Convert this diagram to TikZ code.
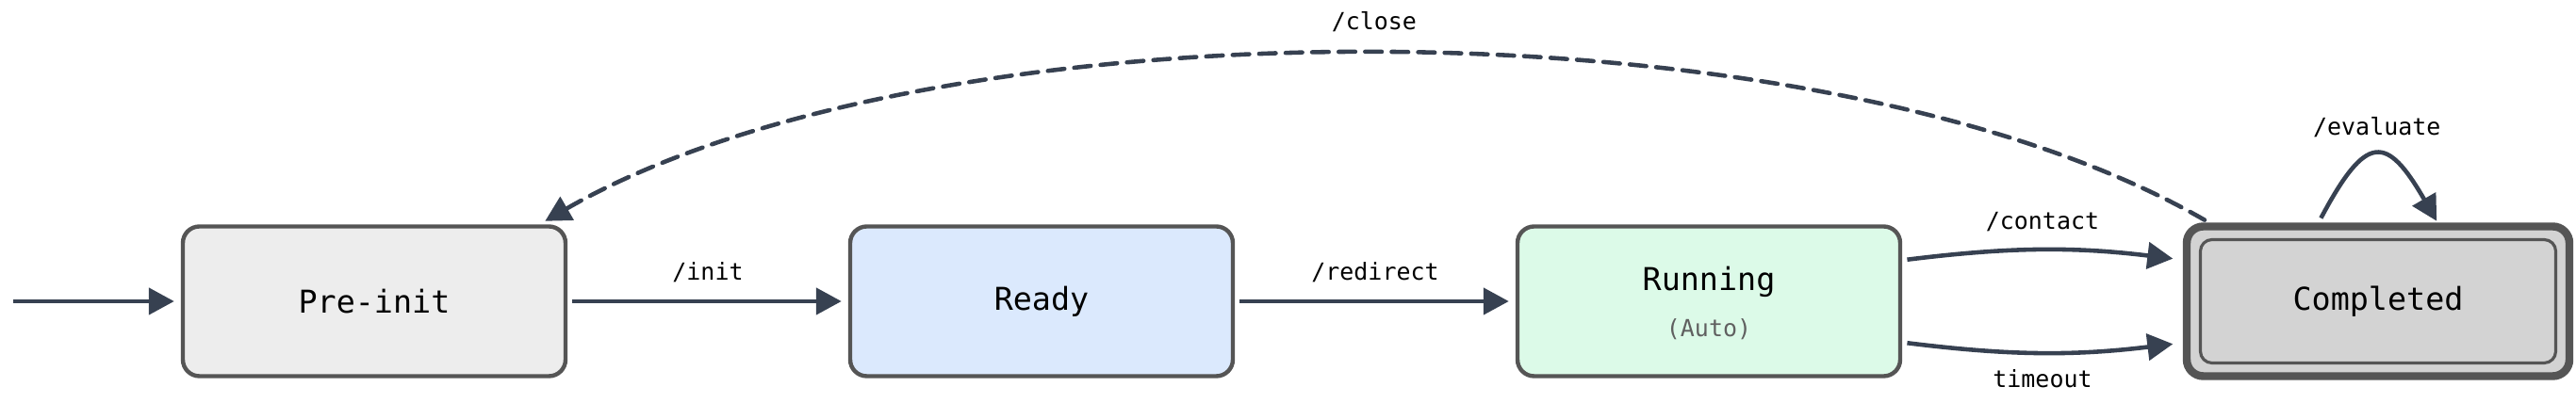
\documentclass[tikz,border=0pt]{standalone}
\usepackage{fontspec}
\newfontfamily\statemono{DejaVu Sans Mono}
\usepackage{tikz}
\usetikzlibrary{arrows.meta,positioning}
\usepackage{xcolor}
\definecolor{edgecol}{HTML}{374151}
\definecolor{bordcol}{HTML}{555555}
\definecolor{prefill}{HTML}{EDEDED}
\definecolor{readyfill}{HTML}{DBE9FD}
\definecolor{runfill}{HTML}{DCFAE8}
\definecolor{donefill}{HTML}{D3D3D3}
\definecolor{autotxt}{HTML}{606060}

\begin{document}
\begin{tikzpicture}[
  state/.style={draw=bordcol, line width=1.25pt, rounded corners=5pt,
                minimum width=4.06cm, minimum height=1.59cm, align=center,
                inner sep=0pt, font=\statemono\fontsize{9.5}{11.5}\selectfont},
  arr/.style={-{Triangle[length=2.7mm,width=2.8mm]}, draw=edgecol,
              line width=1.3pt, shorten >=2pt, shorten <=1.5pt},
  back/.style={arr, dash pattern=on 5pt off 3pt, line cap=round},
  lbl/.style={font=\statemono\fontsize{7.1}{8.5}\selectfont, inner sep=2pt},
]
  \useasboundingbox (0,0) rectangle (27.33,4.28);

  \coordinate (entry) at (0.09,1.08);
  \node[state, fill=prefill]   (pre)   at (3.97,1.08)  {Pre-init};
  \node[state, fill=readyfill] (ready) at (11.05,1.08) {Ready};
  \node[state, fill=runfill, text depth=-1pt] (run) at (18.13,1.08)
        {Running\\[2.4pt]{\fontsize{7.1}{8.5}\selectfont\color{autotxt}(Auto)}};
  % double frame for the final state
  \node[state, fill=donefill, line width=2.4pt] (done) at (25.23,1.08) {};
  \node[state, fill=donefill, line width=0.9pt, rounded corners=3.5pt,
        minimum width=3.77cm, minimum height=1.31cm] (donein) at (done.center) {Completed};

  \draw[arr] (entry) -- (pre);
  \draw[arr] (pre)   -- node[lbl, above=3pt] {/init} (ready);
  \draw[arr] (ready) -- node[lbl, above=3pt] {/redirect} (run);
  \draw[arr, shorten >=3pt] (run.12)  to[bend left=7]
        node[lbl, above=3pt] {/contact} (done.168);
  \draw[arr, shorten >=3pt] (run.-12) to[bend right=7]
        node[lbl, below=2.5pt] {timeout} (done.-168);
  \draw[arr, shorten >=0.5pt] (done.127) to[out=62, in=120, looseness=2.2]
        node[lbl, above=3pt] {/evaluate} (done.53);
  \draw[back] (done.155) to[out=150, in=30, distance=4.8cm]
        node[lbl, above=4pt] {/close} (pre.25);
\end{tikzpicture}
\end{document}
